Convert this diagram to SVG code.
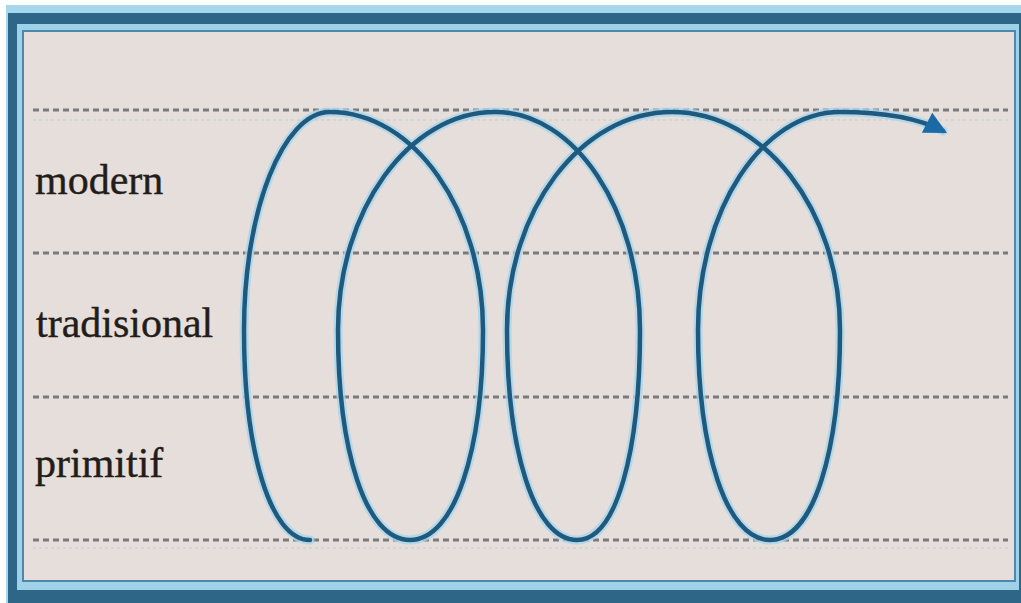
<svg xmlns="http://www.w3.org/2000/svg" width="1021" height="603" viewBox="0 0 1021 603">
<style>
.dash{stroke:#7a7a7e;stroke-width:3;stroke-dasharray:6 4;fill:none}
.ghost{stroke:#cfd6d4;stroke-width:2;stroke-dasharray:3 3;fill:none}
.label{font-family:"Liberation Serif",serif;font-size:42px;fill:#231d1a;stroke:#231d1a;stroke-width:0.4}
.halo{stroke:#a9d6ec;stroke-width:9;fill:none;stroke-linecap:round;opacity:0.8}
.spiral{stroke:#1f5a7e;stroke-width:4.5;fill:none;stroke-linecap:round}
</style>
<defs>
<marker id="arrow" viewBox="0 0 10 10" refX="8" refY="5" markerWidth="5.5" markerHeight="5" orient="auto" markerUnits="strokeWidth">
<path d="M0,0 L10,5 L0,10 z" fill="#1a6aa8"/>
</marker>
</defs>
<rect x="0" y="0" width="1021" height="603" fill="#ffffff"/>
<g id="frame">
<rect x="6" y="5" width="1015" height="598" fill="#a7d7ec"/>
<rect x="8" y="13" width="1013" height="590" fill="#2e6688"/>
<rect x="17" y="24" width="1002" height="566" fill="#9fd1e8"/>
<rect x="23" y="31" width="992" height="550" fill="#e6dedb" stroke="#4d88aa" stroke-width="2"/>
</g>
<g id="guides">
<line class="ghost" x1="33" y1="120" x2="1008" y2="120"/>
<line class="ghost" x1="33" y1="548" x2="1008" y2="548"/>
<line class="dash" x1="33" y1="110" x2="1008" y2="110"/>
<line class="dash" x1="33" y1="253" x2="1008" y2="253"/>
<line class="dash" x1="33" y1="397" x2="1008" y2="397"/>
<line class="dash" x1="33" y1="540" x2="1008" y2="540"/>
</g>
<g id="label-modern"><text class="label" x="35" y="194">modern</text></g>
<g id="label-tradisional"><text class="label" x="36" y="337">tradisional</text></g>
<g id="label-primitif"><text class="label" x="35" y="477">primitif</text></g>
<g id="connectors">
<path class="halo" d="M310,540 C270,540 244,450 244,330 C244,210 283,112 330,112 C414,112 483,210 483,330 C483,450 455,540 410,540 C365,540 338,450 338,330 C338,210 409,112 495,112 C575,112 640,210 640,330 C640,450 617,540 577,540 C534,540 507,450 507,330 C507,210 581,112 672,112 C764,112 840,210 840,330 C840,450 814,540 770,540 C726,540 698,450 698,330 C698,210 762,112 840,112 C888,112 920,119 943,131"/>
<path id="spiral" class="spiral" marker-end="url(#arrow)" d="M310,540 C270,540 244,450 244,330 C244,210 283,112 330,112 C414,112 483,210 483,330 C483,450 455,540 410,540 C365,540 338,450 338,330 C338,210 409,112 495,112 C575,112 640,210 640,330 C640,450 617,540 577,540 C534,540 507,450 507,330 C507,210 581,112 672,112 C764,112 840,210 840,330 C840,450 814,540 770,540 C726,540 698,450 698,330 C698,210 762,112 840,112 C888,112 920,119 943,131"/>
</g>
</svg>
